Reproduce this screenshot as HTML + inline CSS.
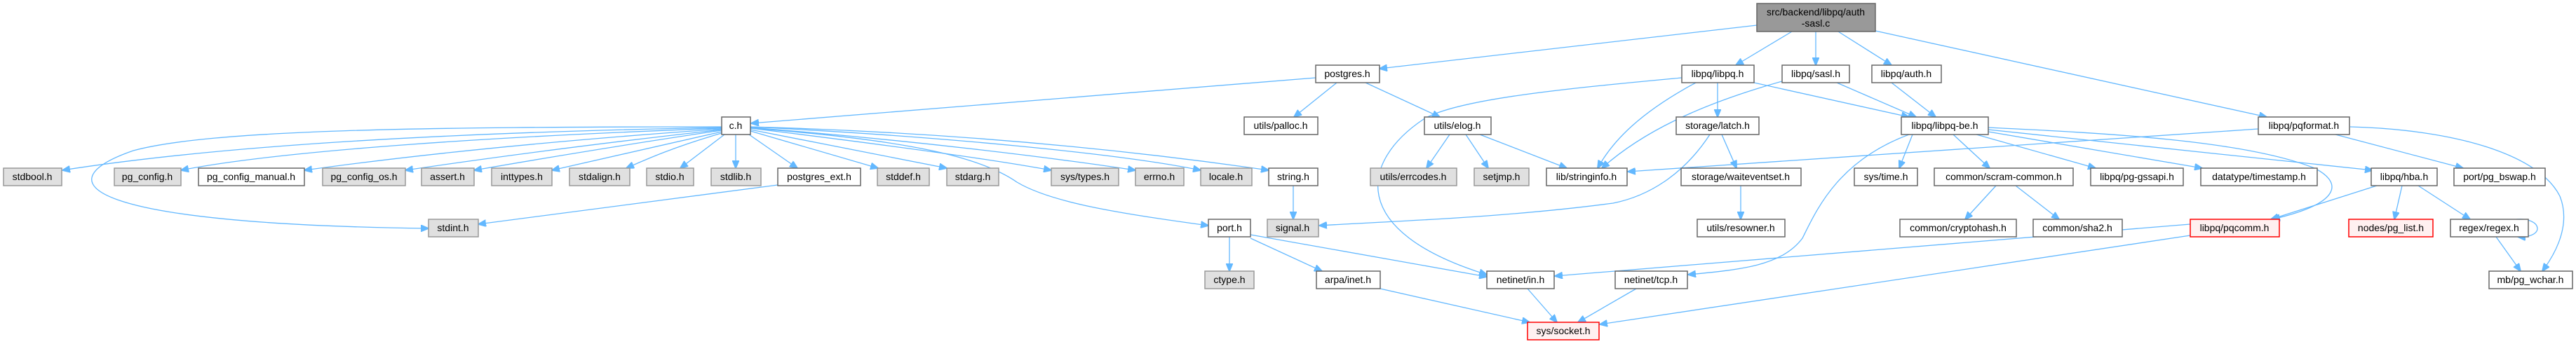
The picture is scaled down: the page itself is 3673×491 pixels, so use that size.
<!DOCTYPE html>
<html><head><meta charset="utf-8"><style>
html,body{margin:0;padding:0;background:#fff;}
svg{display:block;}
text{font-family:"Liberation Sans",sans-serif;font-size:14px;fill:#000;text-anchor:middle;}
.e{fill:none;stroke:#63b8ff;stroke-width:1.3;marker-end:url(#a);}
.n{fill:#fff;stroke:#666;stroke-width:1.5;}
.g{fill:#e0e0e0;stroke:#999;stroke-width:1.5;}
.r{fill:#fff0f0;stroke:#f00;stroke-width:1.5;}
</style></head><body>
<svg width="3673" height="491" viewBox="0 0 3673 491" xmlns="http://www.w3.org/2000/svg">
<defs><marker id="a" markerWidth="12" markerHeight="10" refX="11" refY="5" orient="auto" markerUnits="userSpaceOnUse"><path d="M0,0 L12,5 L0,10 Z" fill="#63b8ff" stroke="#63b8ff"/></marker></defs>
<!-- edges -->
<path class="e" d="M2505,36 L1967,98"/>
<path class="e" d="M2555,45 L2475,93"/>
<path class="e" d="M2589,45 L2589,93"/>
<path class="e" d="M2621,45 L2697,93"/>
<path class="e" d="M2674,44 L3232,167"/>
<path class="e" d="M1876,111 L1071,176"/>
<path class="e" d="M1906,118 L1845,167"/>
<path class="e" d="M1947,118 L2053,167"/>
<path class="e" d="M2418,118 C2340,160 2300,200 2278,240"/>
<path class="e" d="M2398,111 C2250,125 2080,140 2030,170 C1940,230 1920,330 2120,392"/>
<path class="e" d="M2449,118 L2449,167"/>
<path class="e" d="M2501,118 L2722,167"/>
<path class="e" d="M2541,116 C2420,150 2340,190 2284,240"/>
<path class="e" d="M2619,118 L2732,167"/>
<path class="e" d="M2697,118 L2760,167"/>
<path class="e" d="M3220,184 L2321,245"/>
<path class="e" d="M3330,192 L3512,240"/>
<path class="e" d="M3351,181 C3500,185 3620,220 3650,280 C3670,330 3630,380 3625,387"/>
<!-- c.h fan -->
<path class="e" d="M1029,181 C600,181 300,185 190,215 C60,260 120,320 611,326"/>
<path class="e" d="M1029,182 C600,190 300,210 89,243"/>
<path class="e" d="M1029,183 C700,195 400,215 258,243"/>
<path class="e" d="M1029,184 C800,200 600,220 434,243"/>
<path class="e" d="M1029,185 C850,205 700,225 578,243"/>
<path class="e" d="M1029,186 C900,205 780,225 676,243"/>
<path class="e" d="M1029,188 C930,210 850,228 787,243"/>
<path class="e" d="M1029,190 C960,210 920,228 893,240"/>
<path class="e" d="M1033,192 L970,240"/>
<path class="e" d="M1049,192 L1049,240"/>
<path class="e" d="M1068,192 L1137,240"/>
<path class="e" d="M1070,187 L1252,240"/>
<path class="e" d="M1070,185 L1350,240"/>
<path class="e" d="M1070,183 C1250,205 1400,225 1499,243"/>
<path class="e" d="M1070,182 C1300,200 1500,225 1619,243"/>
<path class="e" d="M1070,181 C1350,195 1600,220 1712,243"/>
<path class="e" d="M1070,181 C1400,190 1650,220 1809,243"/>
<path class="e" d="M1070,183 C1300,200 1400,225 1450,260 C1500,290 1600,305 1723,322"/>
<path class="e" d="M1109,264 L682,320"/>
<path class="e" d="M1844,265 L1844,313"/>
<path class="e" d="M2067,192 L2034,240"/>
<path class="e" d="M2090,192 L2122,240"/>
<path class="e" d="M2110,192 L2234,240"/>
<path class="e" d="M2438,192 C2400,250 2350,280 2300,290 C2150,310 2000,315 1881,322"/>
<path class="e" d="M2455,192 L2476,240"/>
<path class="e" d="M2482,265 L2482,313"/>
<path class="e" d="M2727,192 L2708,240"/>
<path class="e" d="M2785,192 L2837,240"/>
<path class="e" d="M2818,192 L2988,240"/>
<path class="e" d="M2835,188 L3140,240"/>
<path class="e" d="M2835,185 L3383,243"/>
<path class="e" d="M2835,182 C3000,190 3200,200 3300,240 C3340,260 3340,290 3240,313"/>
<path class="e" d="M2722,192 C2620,230 2590,300 2570,340 C2540,380 2480,385 2407,392"/>
<path class="e" d="M2846,265 L2802,313"/>
<path class="e" d="M2874,265 L2936,313"/>
<path class="e" d="M3389,265 L3238,313"/>
<path class="e" d="M3425,265 L3414,313"/>
<path class="e" d="M3448,265 L3522,313"/>
<path class="e" d="M3588,313 C3625,310 3630,340 3590,338"/>
<path class="e" d="M3559,338 L3594,387"/>
<path class="e" d="M3123,320 L2217,394"/>
<path class="e" d="M3123,336 L2281,463"/>
<path class="e" d="M1753,338 L1753,387"/>
<path class="e" d="M1783,335 L2120,395"/>
<path class="e" d="M1783,340 L1885,387"/>
<path class="e" d="M1968,412 L2181,460"/>
<path class="e" d="M2178,412 L2220,460"/>
<path class="e" d="M2333,412 L2250,460"/>
<!-- nodes -->
<rect x="2505" y="5" width="169" height="40" fill="#999" stroke="#666" stroke-width="1.5"/>
<text x="2589" y="22">src/backend/libpq/auth</text><text x="2589" y="38">-sasl.c</text>
<g>
<rect class="n" x="1876" y="93" width="91" height="25"/><text x="1921" y="110">postgres.h</text>
<rect class="n" x="2398" y="93" width="103" height="25"/><text x="2449" y="110">libpq/libpq.h</text>
<rect class="n" x="2541" y="93" width="96" height="25"/><text x="2589" y="110">libpq/sasl.h</text>
<rect class="n" x="2669" y="93" width="99" height="25"/><text x="2718" y="110">libpq/auth.h</text>

<rect class="n" x="1029" y="167" width="41" height="25"/><text x="1049" y="184">c.h</text>
<rect class="n" x="1774" y="167" width="105" height="25"/><text x="1826" y="184">utils/palloc.h</text>
<rect class="n" x="2031" y="167" width="95" height="25"/><text x="2078" y="184">utils/elog.h</text>
<rect class="n" x="2390" y="167" width="118" height="25"/><text x="2449" y="184">storage/latch.h</text>
<rect class="n" x="2711" y="167" width="124" height="25"/><text x="2773" y="184">libpq/libpq-be.h</text>
<rect class="n" x="3220" y="167" width="130" height="25"/><text x="3285" y="184">libpq/pqformat.h</text>

<rect class="g" x="5" y="240" width="83" height="25"/><text x="46" y="257">stdbool.h</text>
<rect class="g" x="163" y="240" width="95" height="25"/><text x="210" y="257">pg_config.h</text>
<rect class="n" x="283" y="240" width="151" height="25"/><text x="358" y="257">pg_config_manual.h</text>
<rect class="g" x="460" y="240" width="118" height="25"/><text x="519" y="257">pg_config_os.h</text>
<rect class="g" x="601" y="240" width="75" height="25"/><text x="638" y="257">assert.h</text>
<rect class="g" x="701" y="240" width="86" height="25"/><text x="744" y="257">inttypes.h</text>
<rect class="g" x="812" y="240" width="86" height="25"/><text x="855" y="257">stdalign.h</text>
<rect class="g" x="922" y="240" width="67" height="25"/><text x="955" y="257">stdio.h</text>
<rect class="g" x="1014" y="240" width="71" height="25"/><text x="1049" y="257">stdlib.h</text>
<rect class="n" x="1109" y="240" width="118" height="25"/><text x="1168" y="257">postgres_ext.h</text>
<rect class="g" x="1251" y="240" width="74" height="25"/><text x="1288" y="257">stddef.h</text>
<rect class="g" x="1350" y="240" width="74" height="25"/><text x="1387" y="257">stdarg.h</text>
<rect class="g" x="1499" y="240" width="96" height="25"/><text x="1547" y="257">sys/types.h</text>
<rect class="g" x="1619" y="240" width="69" height="25"/><text x="1653" y="257">errno.h</text>
<rect class="g" x="1712" y="240" width="73" height="25"/><text x="1748" y="257">locale.h</text>
<rect class="n" x="1809" y="240" width="70" height="25"/><text x="1844" y="257">string.h</text>
<rect class="g" x="1954" y="240" width="123" height="25"/><text x="2015" y="257">utils/errcodes.h</text>
<rect class="g" x="2102" y="240" width="78" height="25"/><text x="2141" y="257">setjmp.h</text>
<rect class="n" x="2205" y="240" width="115" height="25"/><text x="2262" y="257">lib/stringinfo.h</text>
<rect class="n" x="2397" y="240" width="171" height="25"/><text x="2482" y="257">storage/waiteventset.h</text>
<rect class="n" x="2644" y="240" width="90" height="25"/><text x="2689" y="257">sys/time.h</text>
<rect class="n" x="2758" y="240" width="198" height="25"/><text x="2857" y="257">common/scram-common.h</text>
<rect class="n" x="2981" y="240" width="132" height="25"/><text x="3047" y="257">libpq/pg-gssapi.h</text>
<rect class="n" x="3138" y="240" width="166" height="25"/><text x="3221" y="257">datatype/timestamp.h</text>
<rect class="n" x="3381" y="240" width="94" height="25"/><text x="3428" y="257">libpq/hba.h</text>
<rect class="n" x="3499" y="240" width="130" height="25"/><text x="3564" y="257">port/pg_bswap.h</text>

<rect class="g" x="611" y="313" width="71" height="25"/><text x="646" y="330">stdint.h</text>
<rect class="n" x="1723" y="313" width="60" height="25"/><text x="1753" y="330">port.h</text>
<rect class="g" x="1807" y="313" width="73" height="25"/><text x="1843" y="330">signal.h</text>
<rect class="n" x="2420" y="313" width="125" height="25"/><text x="2482" y="330">utils/resowner.h</text>
<rect class="n" x="2709" y="313" width="166" height="25"/><text x="2792" y="330">common/cryptohash.h</text>
<rect class="n" x="2899" y="313" width="127" height="25"/><text x="2962" y="330">common/sha2.h</text>
<rect class="r" x="3123" y="313" width="127" height="25"/><text x="3186" y="330">libpq/pqcomm.h</text>
<rect class="r" x="3349" y="313" width="120" height="25"/><text x="3409" y="330">nodes/pg_list.h</text>
<rect class="n" x="3494" y="313" width="111" height="25"/><text x="3549" y="330">regex/regex.h</text>

<rect class="g" x="1718" y="387" width="70" height="25"/><text x="1753" y="404">ctype.h</text>
<rect class="n" x="1877" y="387" width="91" height="25"/><text x="1922" y="404">arpa/inet.h</text>
<rect class="n" x="2120" y="387" width="96" height="25"/><text x="2168" y="404">netinet/in.h</text>
<rect class="n" x="2303" y="387" width="103" height="25"/><text x="2354" y="404">netinet/tcp.h</text>
<rect class="n" x="3549" y="387" width="119" height="25"/><text x="3608" y="404">mb/pg_wchar.h</text>

<rect class="r" x="2178" y="460" width="102" height="25"/><text x="2229" y="477">sys/socket.h</text>
</g>
</svg>
</body></html>
